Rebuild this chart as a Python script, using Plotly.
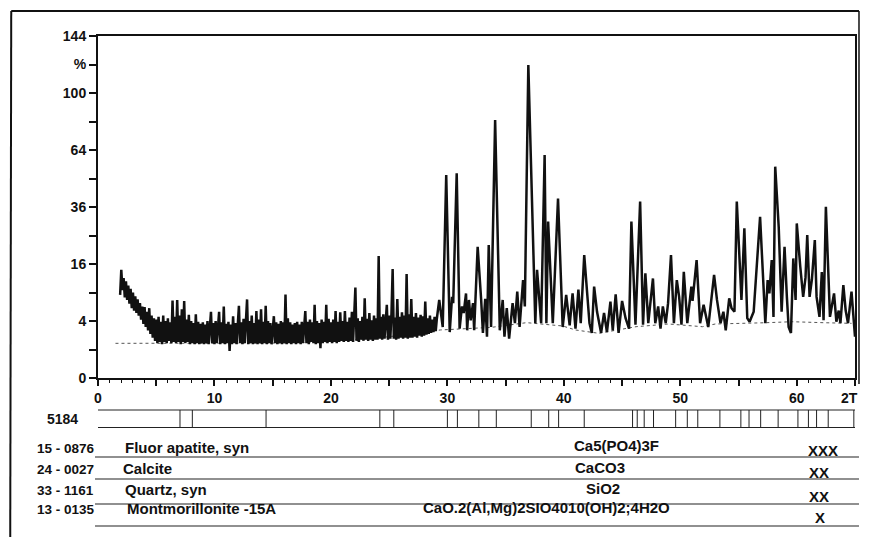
import numpy as np
import plotly.graph_objects as go

dense_start = 1.9
dense_step = 0.1
dense_counts = [
    8.5, 14.4, 9.5, 12.3, 8.0, 11.5, 7.5, 10.5, 6.8, 9.8,
    6.0, 9.0, 5.6, 8.2, 5.2, 7.6, 4.8, 6.9, 4.2, 6.3,
    3.6, 6.2, 3.2, 5.4, 2.8, 6.0, 2.4, 4.8, 2.0, 4.4,
    1.7, 4.2, 1.5, 4.6, 1.6, 3.9, 1.4, 4.8, 1.6, 4.0,
    1.5, 4.4, 1.7, 3.8, 1.5, 7.4, 1.6, 4.6, 1.5, 7.5,
    1.6, 4.8, 1.4, 5.8, 1.6, 7.3, 1.5, 4.2, 1.6, 4.9,
    1.4, 4.0, 1.5, 3.7, 1.4, 5.0, 1.5, 3.9, 1.4, 3.6,
    1.5, 3.8, 1.4, 3.5, 1.5, 4.0, 1.4, 3.6, 5.4, 1.5,
    3.7, 1.4, 4.0, 1.5, 3.5, 5.4, 1.4, 3.8, 1.5, 6.3,
    1.4, 3.6, 1.5, 3.9, 0.9, 3.5, 1.4, 4.7, 1.5, 3.7,
    1.4, 3.9, 6.4, 1.5, 3.8, 1.4, 4.3, 1.5, 3.8, 7.6,
    1.4, 4.0, 1.5, 4.8, 1.4, 3.7, 1.5, 5.5, 1.4, 4.2,
    1.5, 5.8, 1.4, 3.9, 1.5, 6.4, 1.4, 4.0, 1.5, 3.7,
    1.4, 3.6, 4.7, 1.5, 3.8, 1.4, 3.6, 1.5, 4.0, 1.4,
    3.8, 1.5, 8.6, 1.4, 4.4, 1.5, 3.8, 1.4, 3.5, 1.5,
    3.7, 1.4, 3.9, 1.5, 3.5, 1.4, 3.9, 1.5, 4.1, 5.5,
    1.5, 3.9, 1.4, 4.2, 1.6, 3.8, 1.5, 6.6, 1.4, 4.0,
    1.5, 3.7, 1.1, 4.2, 1.5, 3.9, 1.6, 6.6, 1.5, 4.3,
    1.6, 3.8, 1.5, 4.2, 1.6, 5.5, 1.5, 3.9, 1.6, 5.3,
    1.7, 4.0, 1.6, 5.5, 1.7, 3.9, 1.6, 4.5, 1.7, 5.4,
    1.6, 4.2, 10.1, 1.7, 4.4, 1.6, 4.0, 1.8, 4.6, 1.7,
    7.8, 1.8, 4.3, 1.7, 5.2, 1.8, 4.1, 1.7, 4.8, 1.8,
    4.4, 1.8, 18.3, 1.9, 4.6, 1.8, 5.0, 1.9, 4.4, 6.6,
    1.8, 4.8, 1.9, 5.2, 14.6, 1.9, 4.5, 1.8, 7.7, 1.9,
    4.6, 2.0, 5.3, 1.9, 4.8, 2.0, 13.3, 1.9, 5.0, 2.0,
    7.7, 2.0, 4.6, 2.1, 5.2, 2.0, 4.5, 2.2, 4.9, 2.1,
    4.7, 2.2, 7.2, 2.3, 4.4, 2.4, 4.8, 2.5, 4.2, 2.6,
    4.6, 2.7, 4.4,
]

peak_theta = [
    29.3, 29.6, 29.9, 30.2, 30.4, 30.5, 30.8, 31.05, 31.25, 31.4,
    31.6, 31.7, 31.85, 32.0, 32.2, 32.3, 32.6, 32.9, 33.05, 33.25,
    33.4, 33.55, 33.75, 34.1, 34.5, 34.75, 34.9, 35.1, 35.3, 35.6,
    35.8, 36.0, 36.2, 36.5, 36.65, 36.95, 37.55, 37.7, 37.85, 38.05,
    38.35, 38.5, 38.65, 39.05, 39.5, 39.9, 40.2, 40.5, 40.75, 41.0,
    41.25, 41.45, 41.75, 42.2, 42.4, 42.6, 42.85, 43.2, 43.45, 43.7,
    44.0, 44.2, 44.45, 44.7, 45.0, 45.15, 45.3, 45.6, 45.8, 46.15,
    46.55, 46.8, 47.0, 47.25, 47.45, 47.65, 47.85, 48.1, 48.3, 48.5,
    48.75, 48.95, 49.2, 49.45, 49.7, 49.9, 50.1, 50.3, 50.6, 50.95,
    51.05, 51.4, 51.7, 52.0, 52.4, 52.9, 53.15, 53.45, 53.7, 53.9,
    54.2, 54.4, 54.65, 54.85, 55.05, 55.25, 55.5, 55.75, 55.95, 56.3,
    56.85, 57.3, 57.5, 57.65, 57.85, 58.0, 58.15, 58.45, 58.7, 58.95,
    59.15, 59.3, 59.5, 59.7, 59.9, 60.0, 60.3, 60.55, 60.75, 60.9,
    61.1, 61.3, 61.55, 61.7, 61.95, 62.15, 62.3, 62.5, 62.85, 63.2,
    63.4, 63.6, 63.75, 64.0, 64.2, 64.4, 64.7, 64.85, 65.0,
]
peak_counts = [
    7.5, 3.2, 50.7, 2.6, 8.1, 6.9, 51.6, 3.0, 6.3, 5.2,
    8.8, 2.8, 7.5, 4.1, 6.9, 2.8, 21.2, 7.5, 2.5, 7.7,
    2.1, 21.8, 3.2, 81.9, 2.8, 7.5, 2.1, 6.0, 1.9, 6.9,
    3.7, 9.2, 3.2, 11.8, 6.3, 120.6, 3.7, 14.4, 9.5, 3.7,
    61.2, 3.7, 30.1, 3.7, 39.7, 3.2, 8.5, 3.4, 8.8, 3.0,
    9.6, 3.7, 18.6, 3.7, 2.5, 10.3, 5.4, 2.5, 5.2, 2.6,
    7.2, 2.8, 8.6, 2.5, 7.3, 5.4, 4.4, 3.0, 30.1, 3.5,
    38.3, 3.5, 13.5, 3.7, 8.1, 12.2, 3.7, 6.3, 3.0, 6.3,
    3.7, 6.9, 18.6, 3.7, 11.8, 8.1, 3.5, 13.9, 3.7, 10.3,
    7.3, 17.1, 3.7, 6.6, 3.2, 13.1, 7.5, 3.7, 5.4, 2.8,
    7.8, 6.0, 5.4, 38.3, 20.0, 7.5, 27.6, 4.4, 3.9, 5.4,
    32.0, 3.7, 11.8, 8.8, 17.1, 4.6, 55.0, 28.0, 5.4, 21.2,
    8.1, 3.2, 2.5, 17.6, 7.5, 29.4, 15.3, 8.1, 12.4, 25.2,
    8.1, 12.0, 23.4, 8.1, 4.6, 13.8, 4.1, 36.1, 4.6, 8.8,
    3.9, 5.6, 3.7, 10.6, 5.6, 3.7, 9.2, 4.6, 2.1,
]

bg_theta = [1.5, 4.7, 10.0, 15.0, 20.0, 25.0, 29.4, 33.8, 36.8, 39.9,
            41.0, 43.0, 46.2, 49.0, 51.9, 53.0, 57.3, 59.6, 62.4, 64.7]
bg_counts = [1.48, 1.48, 1.45, 1.5, 1.6, 2.1, 2.84, 3.16, 3.77, 3.33,
             2.84, 2.46, 3.24, 3.59, 3.24, 3.59, 3.76, 3.9, 3.76, 3.68]

stick_theta = [7.04, 8.1, 14.43, 24.2, 25.4, 30.0, 30.86, 32.7, 34.2, 37.2,
               38.7, 39.55, 41.75, 45.9, 46.3, 46.9, 47.7, 49.6, 50.6, 51.5,
               53.4, 55.2, 55.9, 56.9, 58.4, 60.1, 61.0, 61.7, 62.7, 64.9]

pattern_id = "5184"
phase_codes = ["15 - 0876", "24 - 0027", "33 - 1161", "13 - 0135"]
phase_names = ["Fluor apatite, syn", "Calcite", "Quartz, syn", "Montmorillonite -15A"]
phase_formulas = ["Ca5(PO4)3F", "CaCO3", "SiO2", "CaO.2(Al,Mg)2SIO4010(OH)2;4H2O"]
phase_scores = ["XXX", "XX", "XX", "X"]

y_tick_counts = [0, 1, 4, 9, 16, 25, 36, 49, 64, 81, 100, 121, 144]
y_tick_text = ["0", "", "4", "", "16", "", "36", "", "64", "", "100", "%", "144"]
x_tick_vals = [0, 5, 10, 15, 20, 25, 30, 35, 40, 45, 50, 55, 60, 65]
x_tick_text = ["0", "", "10", "", "20", "", "30", "", "40", "", "50", "", "60", ""]
x_unit_label = "2T"

# ---------------- build ----------------
dense_theta = np.round(dense_start + dense_step * np.arange(len(dense_counts)), 2)
theta = np.concatenate([dense_theta, np.array(peak_theta)])
counts = np.concatenate([np.array(dense_counts), np.array(peak_counts)])

# The page body keeps its default 8px margin; the figure is sized so that
# figure + margins fill the 870x545 window exactly (no scrolling).
OX, OY = 8, 8
W, H = 870 - 2 * OX, 545 - 2 * OY
ML, MT = 98 - OX, 36 - OY
MR = W - (857 - OX)
MB = H - (378 - OY)
PW, PH = W - ML - MR, H - MT - MB


def px(X):
    """screen x (window pixels) -> paper fraction"""
    return (X - OX - ML) / PW


def py(Y):
    """screen y (window pixels) -> paper fraction"""
    return (H - MB - (Y - OY)) / PH


FONT = "Liberation Sans, Arial, sans-serif"
INK = "#111111"

fig = go.Figure()
fig.add_trace(go.Scatter(x=bg_theta, y=np.sqrt(bg_counts), mode="lines",
                         line=dict(color="#555555", width=1, dash="dot"),
                         hoverinfo="skip", showlegend=False))
fig.add_trace(go.Scatter(x=theta, y=np.sqrt(counts), mode="lines",
                         line=dict(color=INK, width=2.5),
                         showlegend=False))

shapes = []
bar_top, bar_bot = py(410), py(427.5)
shapes.append(dict(type="rect", xref="x", yref="paper", x0=-0.35, x1=65.15,
                   y0=bar_bot, y1=bar_top, line=dict(color="#222222", width=1)))
for t in stick_theta:
    shapes.append(dict(type="line", xref="x", yref="paper", x0=t, x1=t,
                       y0=bar_bot, y1=bar_top, line=dict(color="#222222", width=1)))

row_text_y = [448, 469.5, 490.5, 509]
row_line_y = [457, 479, 504, 526]
for yl in row_line_y:
    shapes.append(dict(type="line", xref="paper", yref="paper", x0=px(95), x1=px(861),
                       y0=py(yl), y1=py(yl), line=dict(color="#222222", width=1.2)))

# page border
shapes.append(dict(type="line", xref="paper", yref="paper", x0=px(11), x1=px(861),
                   y0=py(11), y1=py(11), line=dict(color=INK, width=2)))
shapes.append(dict(type="line", xref="paper", yref="paper", x0=px(11), x1=px(10),
                   y0=py(11), y1=py(537), line=dict(color=INK, width=2)))
shapes.append(dict(type="line", xref="paper", yref="paper", x0=px(861), x1=px(861),
                   y0=py(11), y1=py(384), line=dict(color=INK, width=1.5)))

annotations = []


def txt(s, X, Y, anchor="left", size=14):
    annotations.append(dict(text=s, xref="paper", yref="paper", x=px(X), y=py(Y),
                            xanchor=anchor, yanchor="middle", showarrow=False,
                            font=dict(family=FONT, size=size, color=INK, weight="bold")))


txt(x_unit_label, 862, 397.5, "right")
txt(pattern_id, 80, 419, "right")
name_x = [123, 121, 123, 125]
formula_x = [618, 601, 604, 548]
score_x = [825, 821, 821, 822]
score_y = [450, 473, 496, 517]
for i in range(4):
    txt(phase_codes[i], 35, row_text_y[i], "left", 13.5)
    txt(phase_names[i], name_x[i], row_text_y[i] - 1, "left", 15)
    txt(phase_formulas[i], formula_x[i], row_text_y[i] - 2, "center", 15)
    txt(phase_scores[i], score_x[i], score_y[i], "center", 15)

fig.update_layout(
    width=W, height=H, autosize=False,
    margin=dict(l=ML, r=MR, t=MT, b=MB, pad=0),
    paper_bgcolor="white", plot_bgcolor="white",
    shapes=shapes, annotations=annotations,
    font=dict(family=FONT, size=14, color=INK),
)
fig.update_xaxes(range=[0, 65], showgrid=False, zeroline=False,
                 showline=True, mirror=True, linecolor=INK, linewidth=2,
                 ticks="outside", ticklen=6, tickwidth=1.5, tickcolor=INK,
                 tickvals=x_tick_vals, ticktext=x_tick_text,
                 tickfont=dict(family=FONT, size=14, color=INK, weight="bold"),
                 minor=dict(dtick=1, ticks="outside", ticklen=3, tickwidth=1, tickcolor=INK))
fig.update_yaxes(range=[0, 12], showgrid=False, zeroline=False,
                 showline=True, mirror=True, linecolor=INK, linewidth=2,
                 ticks="outside", ticklen=7, tickwidth=1.5, tickcolor=INK,
                 tickvals=np.sqrt(y_tick_counts), ticktext=y_tick_text,
                 tickfont=dict(family=FONT, size=14, color=INK, weight="bold"))

fig.write_html("out.html")
